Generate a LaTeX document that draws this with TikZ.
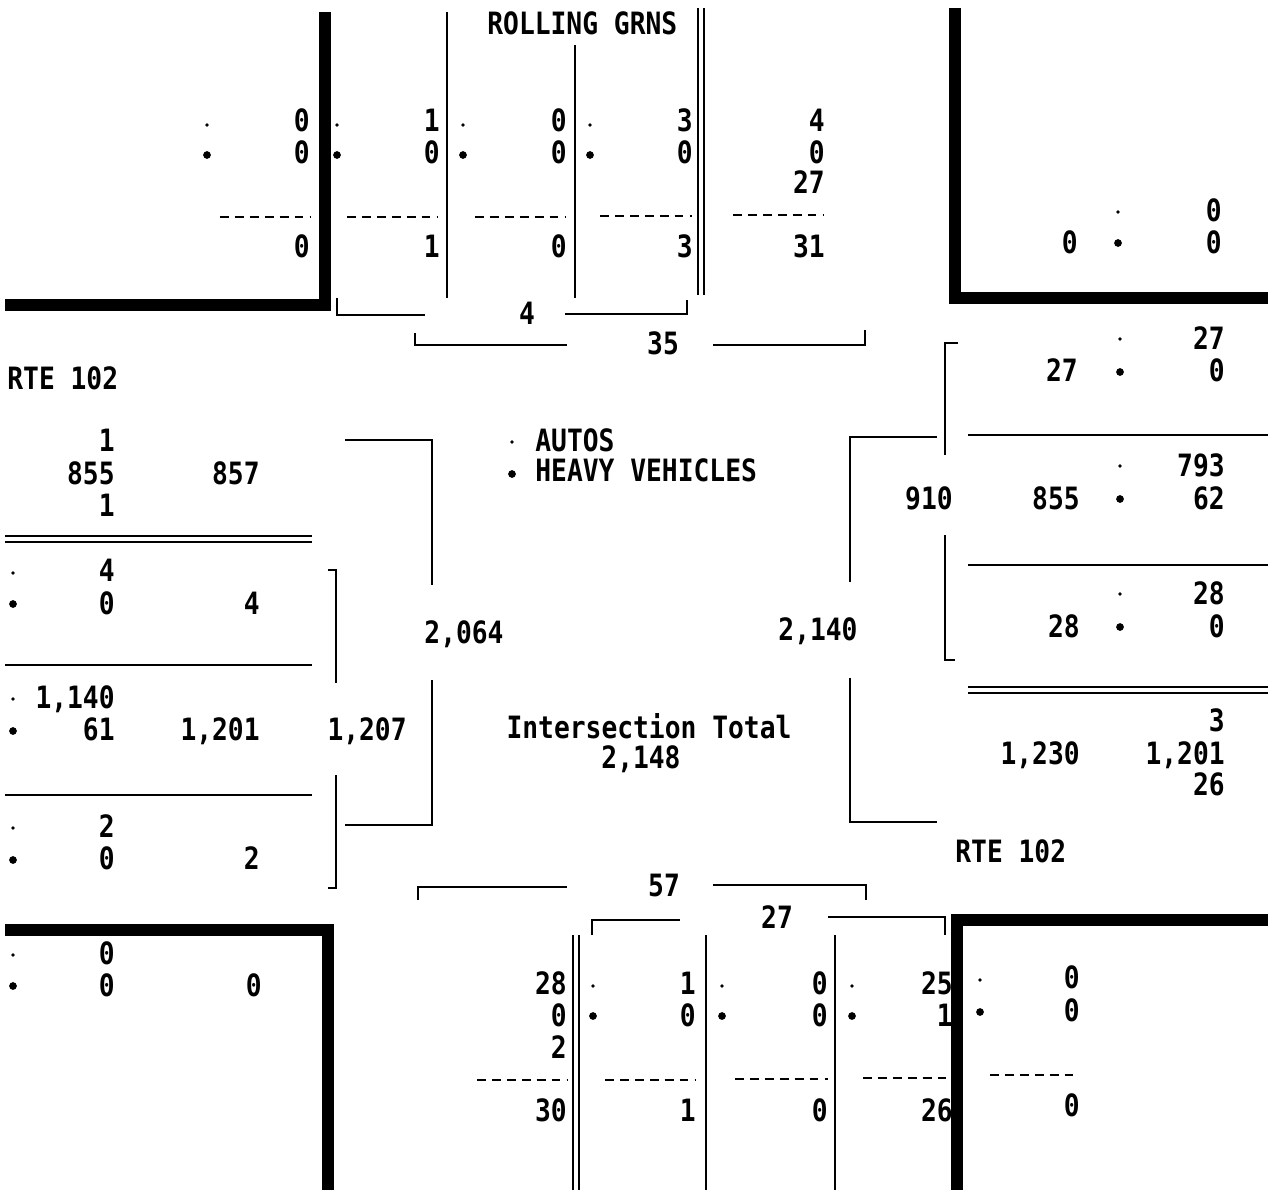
\documentclass[tikz,border=0pt]{standalone}
\usepackage{fontspec}
\newfontfamily\tally[FakeStretch=0.855]{DejaVu Sans Mono}
\newcommand{\tallyfont}{\tally\bfseries\fontsize{17.5pt}{20pt}\selectfont}
\usetikzlibrary{arrows.meta}

\begin{document}
\begin{tikzpicture}[x=0.02cm, y=-0.02cm,
    num/.style = {font=\tallyfont, anchor=east, inner sep=0pt, text height=12.7pt, text depth=0pt},
    lbl/.style = {num, anchor=west},
    mid/.style = {num, anchor=center},
    adot/.style = {circle, fill, inner sep=0pt, minimum size=2.2pt},
    hdot/.style = {circle, fill, inner sep=0pt, minimum size=4.4pt},
    curb/.style = {line width=6.5pt},
    rule/.style = {line width=1pt},
    twin/.style = {line width=0.9pt, double, double distance=2.4pt},
    sub/.style = {line width=1.3pt, dash pattern=on 5pt off 3.5pt}]
                \useasboundingbox (0,0) rectangle (1268,1190);
                % curbs
                \draw[curb] (325,12) -- (325,305) -- (5,305);
                \draw[curb] (955,8) -- (955,298) -- (1268,298);
                \draw[curb] (5,930) -- (328,930) -- (328,1190);
                \draw[curb] (1268,920) -- (957,920) -- (957,1190);
                % north approach
                \node[lbl] (rg) at (487,23) {ROLLING GRNS};
                \draw[rule] (447,12) -- (447,298);
                \draw[rule] (575,45) -- (575,298);
                \draw[twin] (701,8) -- (701,295);
                \node[adot] (d1) at (207,125) {};
                \node[hdot] (d2) at (207,155) {};
                \node[num] (1) at (310,120) {0};
                \node[num] (2) at (310,152) {0};
                \draw[sub] (220,217) -- (310,217);
                \node[num] (3) at (310,246) {0};
                \node[adot] (d3) at (337,125) {};
                \node[hdot] (d4) at (337,155) {};
                \node[num] (4) at (440,120) {1};
                \node[num] (5) at (440,152) {0};
                \draw[sub] (347,217) -- (438,217);
                \node[num] (6) at (440,246) {1};
                \node[adot] (d5) at (463,125) {};
                \node[hdot] (d6) at (463,155) {};
                \node[num] (7) at (567,120) {0};
                \node[num] (8) at (567,152) {0};
                \draw[sub] (475,217) -- (565,217);
                \node[num] (9) at (567,246) {0};
                \node[adot] (d7) at (590,125) {};
                \node[hdot] (d8) at (590,155) {};
                \node[num] (10) at (693,120) {3};
                \node[num] (11) at (693,152) {0};
                \draw[sub] (600,216) -- (692,216);
                \node[num] (12) at (693,246) {3};
                \node[num] (13) at (825,120) {4};
                \node[num] (14) at (825,152) {0};
                \node[num] (15) at (825,182) {27};
                \draw[sub] (733,215) -- (823,215);
                \node[num] (16) at (825,246) {31};
                \node[mid] (17) at (527,313) {4};
                \draw[rule] (337,298) -- (337,315) -- (425,315);
                \draw[rule] (565,314) -- (687,314) -- (687,300);
                \node[mid] (18) at (663,343) {35};
                \draw[rule] (415,333) -- (415,345) -- (567,345);
                \draw[rule] (713,345) -- (865,345) -- (865,330);
                % north-east corner
                \node[adot] (d9) at (1118,212) {};
                \node[hdot] (d10) at (1118,243) {};
                \node[num] (19) at (1222,210) {0};
                \node[num] (20) at (1078,242) {0};
                \node[num] (21) at (1222,242) {0};
                % west approach
                \node[lbl] (rw) at (7,378) {RTE 102};
                \node[num] (22) at (115,440) {1};
                \node[num] (23) at (115,473) {855};
                \node[num] (24) at (260,473) {857};
                \node[num] (25) at (115,505) {1};
                \draw[twin] (5,539) -- (312,539);
                \node[adot] (d11) at (13,573) {};
                \node[hdot] (d12) at (13,604) {};
                \node[num] (26) at (115,570) {4};
                \node[num] (27) at (115,603) {0};
                \node[num] (28) at (260,603) {4};
                \draw[rule] (5,665) -- (312,665);
                \node[adot] (d13) at (13,699) {};
                \node[hdot] (d14) at (13,731) {};
                \node[num] (29) at (115,697) {1,140};
                \node[num] (30) at (115,729) {61};
                \node[num] (31) at (260,729) {1,201};
                \node[num] (32) at (407,729) {1,207};
                \draw[rule] (5,795) -- (312,795);
                \node[adot] (d15) at (13,828) {};
                \node[hdot] (d16) at (13,860) {};
                \node[num] (33) at (115,826) {2};
                \node[num] (34) at (115,858) {0};
                \node[num] (35) at (260,858) {2};
                \draw[rule] (328,570) -- (336,570) -- (336,683);
                \draw[rule] (336,775) -- (336,888) -- (328,888);
                \draw[rule] (345,440) -- (432,440) -- (432,585);
                \draw[rule] (432,680) -- (432,825) -- (345,825);
                \node[mid] (36) at (464,632) {2,064};
                % centre
                \node[adot] (d17) at (512,442) {};
                \node[hdot] (d18) at (512,474) {};
                \node[lbl] (37) at (535,440) {AUTOS};
                \node[lbl] (38) at (535,470) {HEAVY VEHICLES};
                \node[mid] (39) at (649,727) {Intersection Total};
                \node[mid] (40) at (641,757) {2,148};
                % east approach
                \node[mid] (41) at (818,629) {2,140};
                \draw[rule] (937,437) -- (850,437) -- (850,582);
                \draw[rule] (850,678) -- (850,822) -- (937,822);
                \draw[rule] (958,343) -- (945,343) -- (945,455);
                \draw[rule] (945,535) -- (945,660) -- (955,660);
                \node[adot] (d19) at (1120,339) {};
                \node[hdot] (d20) at (1120,372) {};
                \node[num] (42) at (1225,338) {27};
                \node[num] (43) at (1078,370) {27};
                \node[num] (44) at (1225,370) {0};
                \draw[rule] (968,435) -- (1268,435);
                \node[adot] (d21) at (1120,466) {};
                \node[hdot] (d22) at (1120,499) {};
                \node[num] (45) at (1225,465) {793};
                \node[num] (46) at (953,498) {910};
                \node[num] (47) at (1080,498) {855};
                \node[num] (48) at (1225,498) {62};
                \draw[rule] (968,565) -- (1268,565);
                \node[adot] (d23) at (1120,594) {};
                \node[hdot] (d24) at (1120,627) {};
                \node[num] (49) at (1225,593) {28};
                \node[num] (50) at (1080,626) {28};
                \node[num] (51) at (1225,626) {0};
                \draw[twin] (968,690) -- (1268,690);
                \node[num] (52) at (1225,720) {3};
                \node[num] (53) at (1080,753) {1,230};
                \node[num] (54) at (1225,753) {1,201};
                \node[num] (55) at (1225,784) {26};
                \node[lbl] (re) at (955,851) {RTE 102};
                % south approach
                \node[mid] (56) at (664,885) {57};
                \draw[rule] (418,900) -- (418,887) -- (567,887);
                \draw[rule] (713,885) -- (866,885) -- (866,900);
                \node[mid] (57) at (777,917) {27};
                \draw[rule] (592,935) -- (592,920) -- (680,920);
                \draw[rule] (828,917) -- (945,917) -- (945,935);
                \draw[twin] (576,935) -- (576,1190);
                \draw[rule] (706,935) -- (706,1190);
                \draw[rule] (835,935) -- (835,1190);
                \node[num] (58) at (567,983) {28};
                \node[num] (59) at (567,1015) {0};
                \node[num] (60) at (567,1047) {2};
                \draw[sub] (477,1080) -- (567,1080);
                \node[num] (61) at (567,1110) {30};
                \node[adot] (d25) at (593,986) {};
                \node[hdot] (d26) at (593,1016) {};
                \node[num] (62) at (696,983) {1};
                \node[num] (63) at (696,1015) {0};
                \draw[sub] (605,1080) -- (696,1080);
                \node[num] (64) at (696,1110) {1};
                \node[adot] (d27) at (722,986) {};
                \node[hdot] (d28) at (722,1016) {};
                \node[num] (65) at (828,983) {0};
                \node[num] (66) at (828,1015) {0};
                \draw[sub] (735,1079) -- (828,1079);
                \node[num] (67) at (828,1110) {0};
                \node[adot] (d29) at (852,986) {};
                \node[hdot] (d30) at (852,1016) {};
                \node[num] (68) at (953,983) {25};
                \node[num] (69) at (953,1015) {1};
                \draw[sub] (863,1078) -- (953,1078);
                \node[num] (70) at (953,1110) {26};
                \node[adot] (d31) at (980,980) {};
                \node[hdot] (d32) at (980,1012) {};
                \node[num] (71) at (1080,977) {0};
                \node[num] (72) at (1080,1010) {0};
                \draw[sub] (990,1075) -- (1078,1075);
                \node[num] (73) at (1080,1105) {0};
                % south-west corner
                \node[adot] (d33) at (13,955) {};
                \node[hdot] (d34) at (13,986) {};
                \node[num] (74) at (115,953) {0};
                \node[num] (75) at (115,985) {0};
                \node[num] (76) at (262,985) {0};
            \end{tikzpicture}
\end{document}
